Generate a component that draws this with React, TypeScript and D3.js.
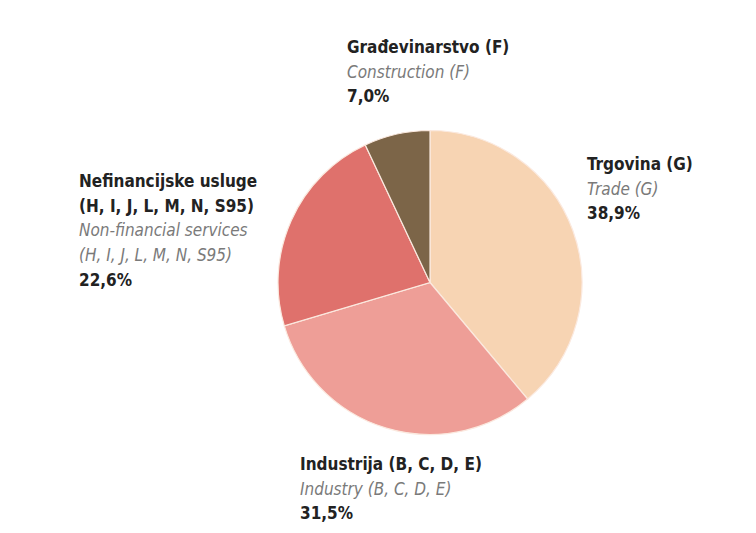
import React from "react";
import * as d3 from "d3";

const categoriesHr = ["Trgovina (G)", "Industrija (B, C, D, E)", "Nefinancijske usluge|(H, I, J, L, M, N, S95)", "Građevinarstvo (F)"];
const categoriesEn = ["Trade (G)", "Industry (B, C, D, E)", "Non-financial services|(H, I, J, L, M, N, S95)", "Construction (F)"];
const shares = [38.9, 31.5, 22.6, 7.0];
const colors = ["#f7d4b3", "#ee9e97", "#df716c", "#7c6548"];

const W = 756, H = 533;
const cx = 430, cy = 282.5, R = 152;
// label anchors (layout)
const labelPos = [
  { x: 587, y: 170 },
  { x: 300, y: 470 },
  { x: 79, y: 187 },
  { x: 347, y: 53 },
];
const LH = 24.7;
const FONT = "'Liberation Sans Narrow', 'DejaVu Sans Condensed', 'Roboto', sans-serif";

export default function App() {
  const pie = d3.pie<number>().sort(null).value((d) => d)(shares);
  const arc = d3.arc<d3.PieArcDatum<number>>().innerRadius(0).outerRadius(R);
  return (
    <svg width={W} height={H} style={{ position: "absolute", left: 0, top: 0, background: "#fff" }}>
      <rect width={W} height={H} fill="#fff" />
      <g transform={`translate(${cx},${cy})`}>
        {pie.map((p, i) => (
          <path key={i} d={arc(p) || ""} fill={colors[i]} stroke="#fbe9df" strokeWidth={1.2} />
        ))}
      </g>
      {shares.map((v, i) => {
        const hr = categoriesHr[i].split("|");
        const en = categoriesEn[i].split("|");
        const lines: { t: string; k: string }[] = [
          ...hr.map((t) => ({ t, k: "hr" })),
          ...en.map((t) => ({ t, k: "en" })),
          { t: d3.format(".1f")(v).replace(".", ",") + "%", k: "v" },
        ];
        const p = labelPos[i];
        return (
          <text key={i} x={p.x} y={p.y} fontFamily={FONT} fontSize={17}>
            {lines.map((l, j) => (
              <tspan
                key={j}
                x={p.x}
                y={p.y + j * LH}
                fontWeight={l.k === "en" ? "normal" : "bold"}
                fontStyle={l.k === "en" ? "italic" : "normal"}
                fill={l.k === "en" ? "#7a7a7a" : "#222"}
              >
                {l.t}
              </tspan>
            ))}
          </text>
        );
      })}
    </svg>
  );
}
